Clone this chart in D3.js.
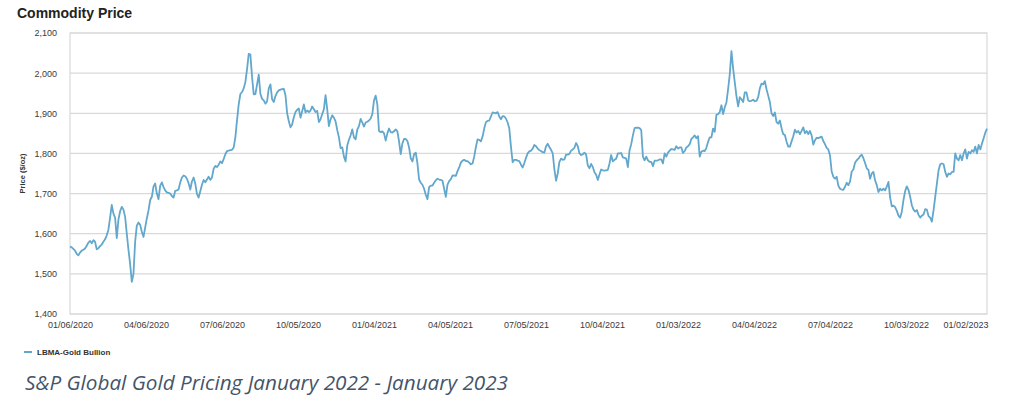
<!DOCTYPE html>
<html lang="en">
<head>
<meta charset="UTF-8">
<title>Commodity Price</title>
<style>
  body { margin: 0; background: #fff; }
  text { font-family: "Liberation Sans", Arial, Helvetica, sans-serif; }
  .grid line { stroke: #d9d9d9; stroke-width: 1.2px; }
  .frame { fill: none; stroke: #d9d9d9; stroke-width: 1.2px; }
  .price { fill: none; stroke: #62a7cc; stroke-width: 1.8px; stroke-linejoin: round; }
</style>
</head>
<body>
<div id="chart"></div>
<script src="https://cdn.jsdelivr.net/npm/d3@7"></script>
<script>
// LBMA gold, every 2 calendar days from 06 Jan 2020
var startDate = "2020-01-06";
var stepDays = 2;
var goldPrices = [
  1568,1566,1562,1558,1550,1546,1553,1558,1560,1563,
  1570,1578,1582,1576,1584,1580,1561,1564,1569,1573,
  1580,1586,1596,1610,1640,1672,1650,1640,1589,1635,
  1656,1667,1660,1642,1600,1560,1525,1480,1500,1580,
  1620,1628,1622,1605,1592,1615,1638,1658,1684,1692,
  1718,1725,1700,1686,1720,1728,1716,1708,1703,1702,
  1700,1694,1690,1707,1708,1710,1728,1740,1745,1743,
  1737,1726,1710,1730,1740,1725,1699,1690,1706,1722,
  1734,1728,1735,1742,1734,1740,1762,1769,1766,1772,
  1780,1776,1786,1798,1806,
  1807,1808,1809,1815,1840,1883,1922,1948,1953,1962,
  1978,2010,2048,2046,1990,1947,1948,1972,1996,1948,
  1936,1932,1924,1930,1962,1972,1935,1928,1943,1952,
  1957,1959,1960,1961,1945,1900,1880,1865,1872,1890,
  1903,1909,1912,1889,1905,1922,1902,1907,1903,1907,
  1917,1910,1903,1906,1878,1885,1898,1910,1945,1910,
  1868,1885,1895,1889,1880,1858,1840,1813,1815,1792,
  1780,1820,1834,1845,1860,1840,1835,1859,1868,1886,
  1877,1867,1877,1879,1882,1887,1898,1932,1944,1922,
  1856,
  1853,1855,1850,1832,1850,1862,1853,1852,1855,1860,
  1855,1830,1798,1825,1836,1836,1831,1815,1788,1780,
  1798,1802,1775,1735,1727,1722,1712,1697,1686,1716,
  1720,1720,1727,1733,1737,1735,1734,1732,1712,1692,
  1722,1731,1736,1745,1745,1744,1756,1765,1777,1782,
  1784,1781,1781,1777,1773,1775,1792,1816,1835,1834,
  1830,1842,1862,1878,1881,1882,1892,1902,1901,1900,
  1903,1892,1885,1893,1892,1887,1877,1862,1817,1778,
  1784,1784,1782,1781,1772,1765,1776,1789,1800,1805,
  1807,1812,1821,1818,1812,1808,1806,1803,1802,
  1818,1824,1816,1809,1800,1760,1732,1750,1779,1787,
  1784,1785,1797,1797,1799,1807,1810,1814,1826,1818,
  1800,1796,1798,1802,1797,1770,1763,1774,1766,1753,
  1747,1734,1748,1760,1758,1757,1758,1759,1775,1796,
  1780,1784,1787,1800,1800,1801,1790,1789,1787,1766,
  1808,1823,1845,1863,1864,1864,1863,1858,1792,1783,
  1792,1783,1779,1779,1768,1782,1782,1783,1785,1785,
  1775,1800,1792,1802,1807,1811,1810,1809,1818,1812,
  1815,1815,1801,1806,1815,1818,1823,1836,1840,1845,
  1838,1843,1792,1804,1807,1806,1814,1829,1840,
  1840,1862,1854,1896,1898,1903,1920,1898,1915,1927,
  1960,1997,2055,2012,1977,1943,1917,1940,1935,1928,
  1952,1952,1932,1930,1931,1934,1930,1931,1940,1962,
  1974,1972,1980,1960,1944,1928,1900,1893,1902,1878,
  1874,1882,1863,1848,1846,1829,1817,1817,1830,1843,
  1859,1852,1856,1848,1856,1865,1850,1856,1848,1856,
  1845,1822,1833,1839,1838,1840,1842,1831,1823,1814,
  1810,1795,
  1755,1742,1737,1742,1720,
  1712,1710,1709,1717,1727,1721,1730,1755,1760,1777,
  1783,1787,1793,1797,1788,1776,1763,1759,1737,1750,
  1754,1733,1721,1704,1712,1708,1712,1708,1717,1729,
  1690,1668,1670,1666,1657,1645,1640,1655,1684,1706,
  1718,1709,1692,1671,1660,1655,1659,1647,1640,1645,
  1648,1661,1660,1644,1640,1630,1658,1692,1725,1758,
  1773,1775,1773,1754,1742,1750,1748,1754,1754,1800,
  1787,1783,1796,1783,1800,1810,1787,1804,1800,1808,
  1804,1817,1800,1821,1810,1825,1838,1852,1862
];

var yTicks = [1400, 1500, 1600, 1700, 1800, 1900, 2000, 2100];
var xTickDates = ["2020-01-06", "2020-04-06", "2020-07-06", "2020-10-05",
  "2021-01-04", "2021-04-05", "2021-07-05", "2021-10-04",
  "2022-01-03", "2022-04-04", "2022-07-04", "2022-10-03", "2023-01-02"];

var width = 1024;
var height = 410;
var margin = { top: 33, right: 37, bottom: 96, left: 70 };

var parse = d3.utcParse("%Y-%m-%d");
var start = parse(startDate);
var data = goldPrices.map(function(v, i) {
  return { date: d3.utcDay.offset(start, i * stepDays), value: v };
});

var svg = d3.select("#chart")
  .append("svg")
  .attr("width", width)
  .attr("height", height);

var x = d3.scaleUtc()
  .domain([start, data[data.length - 1].date])
  .range([margin.left, width - margin.right]);

var y = d3.scaleLinear()
  .domain([1400, 2100])
  .range([height - margin.bottom, margin.top]);

// gridlines
svg.append("g")
  .attr("class", "grid")
  .selectAll("line")
  .data(yTicks)
  .enter().append("line")
  .attr("x1", margin.left)
  .attr("x2", width - margin.right)
  .attr("y1", function(d) { return y(d); })
  .attr("y2", function(d) { return y(d); });

svg.append("rect")
  .attr("class", "frame")
  .attr("x", margin.left)
  .attr("y", margin.top)
  .attr("width", width - margin.left - margin.right)
  .attr("height", height - margin.top - margin.bottom);

// y axis labels
var yAxis = d3.axisLeft(y)
  .tickValues(yTicks)
  .tickFormat(d3.format(","))
  .tickSize(0)
  .tickPadding(13);

svg.append("g")
  .attr("transform", "translate(" + margin.left + ",0)")
  .call(yAxis)
  .call(function(g) { g.select(".domain").remove(); })
  .selectAll("text")
  .attr("font-size", 9)
  .attr("fill", "#3a3a3a")
  .attr("font-family", "Liberation Sans, Arial, sans-serif");

// x axis labels
var fmt = d3.utcFormat("%m/%d/%Y");
var xAxis = d3.axisBottom(x)
  .tickValues(xTickDates.map(parse))
  .tickFormat(fmt)
  .tickSize(0)
  .tickPadding(8);

var xg = svg.append("g")
  .attr("transform", "translate(0," + (height - margin.bottom) + ")")
  .call(xAxis)
  .call(function(g) { g.select(".domain").remove(); });

xg.selectAll("text")
  .attr("font-size", 9)
  .attr("fill", "#3a3a3a")
  .attr("font-family", "Liberation Sans, Arial, sans-serif");

// last label is pulled inside the plot edge
xg.selectAll(".tick").filter(function(d, i, n) { return i === n.length - 1; })
  .select("text")
  .attr("text-anchor", "end")
  .attr("x", (width - margin.right + 1) - x(parse(xTickDates[xTickDates.length - 1])));

// price line
var line = d3.line()
  .x(function(d) { return x(d.date); })
  .y(function(d) { return y(d.value); });

svg.append("path")
  .datum(data)
  .attr("class", "price")
  .attr("d", line);

// titles
svg.append("text")
  .attr("x", 17)
  .attr("y", 17.5)
  .attr("font-size", 14)
  .attr("font-weight", "bold")
  .attr("fill", "#222")
  .text("Commodity Price");

svg.append("text")
  .attr("transform", "translate(25," + ((margin.top + height - margin.bottom) / 2) + ") rotate(-90)")
  .attr("text-anchor", "middle")
  .attr("font-size", 7.5)
  .attr("font-weight", "bold")
  .attr("fill", "#333")
  .text("Price ($/oz)");

// legend
svg.append("line")
  .attr("x1", 24).attr("x2", 32)
  .attr("y1", 352).attr("y2", 352)
  .attr("stroke", "#62a7cc")
  .attr("stroke-width", 2);

svg.append("text")
  .attr("x", 37)
  .attr("y", 355)
  .attr("font-size", 8)
  .attr("font-weight", "bold")
  .attr("fill", "#333")
  .text("LBMA-Gold Bullion");

// caption under the chart
svg.append("text")
  .attr("x", 25)
  .attr("y", 390)
  .attr("font-size", 20)
  .attr("font-style", "italic")
  .attr("fill", "#44546a")
  .style("font-family", "'Open Sans', 'Liberation Sans', sans-serif")
  .attr("textLength", 483)
  .attr("lengthAdjust", "spacingAndGlyphs")
  .text("S&P Global Gold Pricing January 2022 - January 2023");
</script>
</body>
</html>
